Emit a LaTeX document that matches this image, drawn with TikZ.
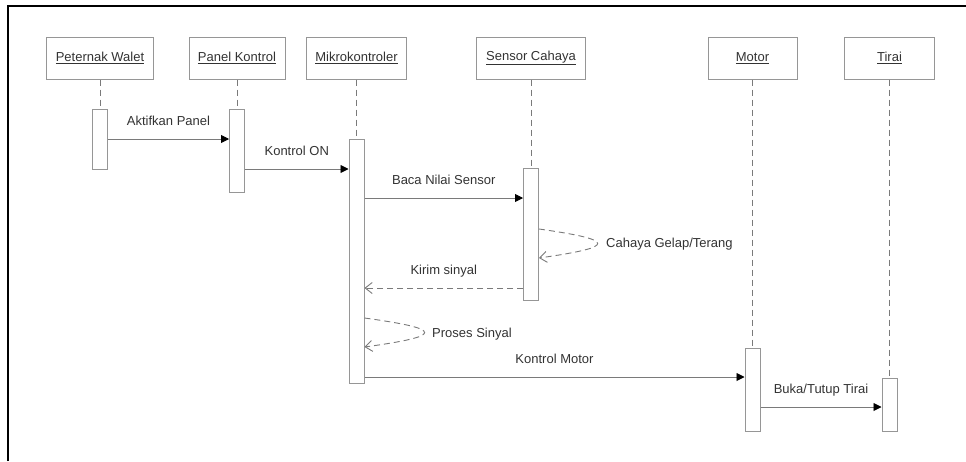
\documentclass[tikz,border=0pt]{standalone}
\usepackage{fontspec}
\setmainfont{Liberation Sans}
\usetikzlibrary{arrows.meta}
\definecolor{linegray}{HTML}{7A7A7A}
\definecolor{boxgray}{HTML}{969696}
\definecolor{txt}{HTML}{333333}
\begin{document}
\begin{tikzpicture}[x=1pt,y=-1pt,
  every node/.style={font=\fontsize{13}{15}\selectfont, text=txt},
  obj/.style={draw=boxgray, line width=1pt, fill=white, minimum height=42pt, inner sep=0pt},
  act/.style={draw=boxgray, line width=1pt, fill=white, minimum width=15pt, inner sep=0pt, anchor=north},
  life/.style={draw=linegray, dash pattern=on 6pt off 4pt, line width=0.8pt},
  msg/.style={draw=linegray, line width=0.9pt, -{Triangle[length=8pt,width=8pt,fill=black,color=black]}},
  ret/.style={draw=linegray, line width=0.9pt, dash pattern=on 6pt off 4pt, -{Straight Barb[length=7pt,width=11pt]}},
  lbl/.style={text height=9.4pt, text depth=0pt, inner sep=0pt}
]
\useasboundingbox (0,0) rectangle (966,461);
\fill[white] (0,0) rectangle (966,461);
% outer frame
\draw[line width=2pt] (8,461) -- (8,6) -- (966,6);

% participants
\node[obj, minimum width=107pt] (pw) at (100,58) {\underline{Peternak Walet}};
\node[obj, minimum width=96pt] (pk) at (237,58) {\underline{Panel Kontrol}};
\node[obj, minimum width=100pt] (mk) at (356.5,58) {\underline{Mikrokontroler}};
\node[obj, minimum width=109pt] (sc) at (531,58) {\underline{Sensor Cahaya}};
\node[obj, minimum width=89pt] (mo) at (752.5,58) {\underline{Motor}};
\node[obj, minimum width=90pt] (ti) at (889.5,58) {\underline{Tirai}};

% activations
\node[act, minimum height=60pt] (a1) at (100,109) {};
\node[act, minimum height=83pt] (a2) at (237,109) {};
\node[act, minimum height=244pt] (a3) at (356.5,139) {};
\node[act, minimum height=132pt] (a4) at (531,168) {};
\node[act, minimum height=83pt] (a5) at (752.5,348) {};
\node[act, minimum height=53pt] (a6) at (889.5,378) {};

% lifelines
\draw[life] (pw.south) -- (a1.north);
\draw[life] (pk.south) -- (a2.north);
\draw[life] (mk.south) -- (a3.north);
\draw[life] (sc.south) -- (a4.north);
\draw[life] (mo.south) -- (a5.north);
\draw[life] (ti.south) -- (a6.north);

% messages
\draw[msg] ([yshift=-30pt]a1.north east) -- node[lbl, yshift=18pt] (l1) {Aktifkan Panel} ([yshift=-30pt]a2.north west);
\draw[msg] ([yshift=-60pt]a2.north east) -- node[lbl, yshift=18pt] (l2) {Kontrol ON} ([yshift=-30pt]a3.north west);
\draw[msg] ([yshift=-59pt]a3.north east) -- node[lbl, yshift=18pt] (l3) {Baca Nilai Sensor} ([yshift=-30pt]a4.north west);
\draw[ret] ([yshift=-61pt]a4.north east) .. controls +(78,11) and +(78,-11) .. ([yshift=-90pt]a4.north east);
\node[lbl, anchor=west] (l4) at (606,243) {Cahaya Gelap/Terang};
\draw[ret] ([yshift=-120pt]a4.north west) -- node[lbl, yshift=18pt] (l5) {Kirim sinyal} ([yshift=-149pt]a3.north east);
\draw[ret] ([yshift=-179pt]a3.north east) .. controls +(80,11) and +(80,-11) .. ([yshift=-208pt]a3.north east);
\node[lbl, anchor=west] (l6) at (432,333) {Proses Sinyal};
\draw[msg] ([yshift=-238pt]a3.north east) -- node[lbl, yshift=18pt] (l7) {Kontrol Motor} ([yshift=-29pt]a5.north west);
\draw[msg] ([yshift=-59pt]a5.north east) -- node[lbl, yshift=18pt] (l8) {Buka/Tutup Tirai} ([yshift=-29pt]a6.north west);
\end{tikzpicture}
\end{document}
